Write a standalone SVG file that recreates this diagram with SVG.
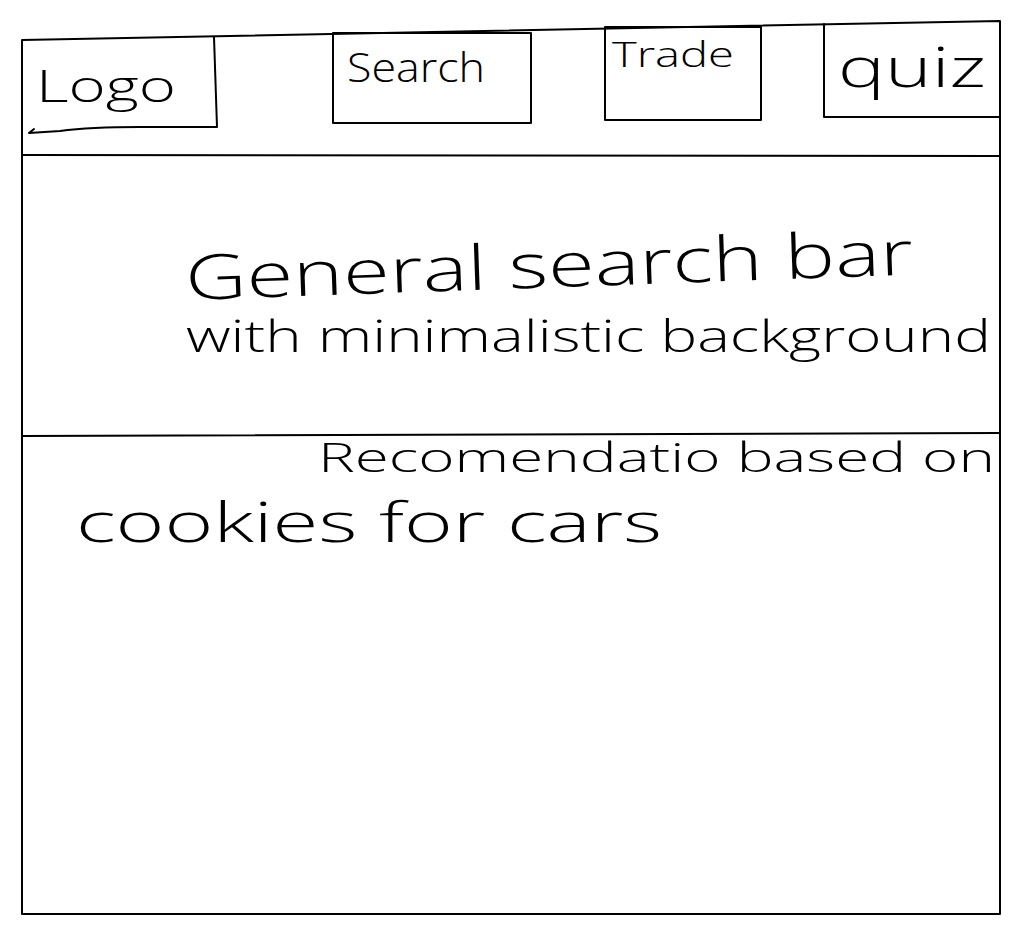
<svg xmlns="http://www.w3.org/2000/svg" width="1020" height="933" viewBox="0 0 1020 933">
  <style>
    .ln { fill: none; stroke: #000; stroke-width: 2; stroke-linecap: round; stroke-linejoin: round; }
    .hand { font-family: "Open Sans", "Lato", "Liberation Sans", sans-serif; font-weight: 300; fill: #000; }
  </style>
  <rect x="0" y="0" width="1020" height="933" fill="#fff"/>

  <!-- page frame and section dividers -->
  <g id="frame">
    <path class="ln" d="M22,40 L1000,21 L1000,914 L22,914 Z"/>
    <path class="ln" d="M22,155 L1000,156"/>
    <path class="ln" d="M22,436 L1000,433"/>
  </g>

  <!-- header navigation -->
  <g id="logo">
    <path class="ln" d="M214,37 L217,127 L140,127 Q90,127 60,131 L29,133 M29,133 L34,129"/>
    <text class="hand" x="36" y="102" font-size="44" textLength="140" lengthAdjust="spacingAndGlyphs">Logo</text>
  </g>
  <g id="search">
    <rect class="ln" x="333" y="33" width="198" height="90"/>
    <text class="hand" x="347" y="82" font-size="40" textLength="138" lengthAdjust="spacingAndGlyphs">Search</text>
  </g>
  <g id="trade">
    <rect class="ln" x="605" y="27" width="156" height="93"/>
    <text class="hand" x="612" y="67" font-size="34" textLength="122" lengthAdjust="spacingAndGlyphs">Trade</text>
  </g>
  <g id="quiz">
    <path class="ln" d="M824,24 L824,117 L1000,117"/>
    <text class="hand" x="838" y="87" font-size="56" textLength="148" lengthAdjust="spacingAndGlyphs">quiz</text>
  </g>

  <!-- hero search section -->
  <g id="search-bar">
    <text class="hand" x="186" y="300" font-size="62" textLength="728" lengthAdjust="spacingAndGlyphs" transform="rotate(-2 186 300)">General search bar</text>
    <text class="hand" x="186" y="352" font-size="44" textLength="805" lengthAdjust="spacingAndGlyphs">with minimalistic background</text>
  </g>

  <!-- recommendations section -->
  <g id="recommendations">
    <text class="hand" x="318" y="472" font-size="40" textLength="677" lengthAdjust="spacingAndGlyphs">Recomendatio based on</text>
    <text class="hand" x="76" y="542" font-size="56" textLength="586" lengthAdjust="spacingAndGlyphs">cookies for cars</text>
  </g>
</svg>
